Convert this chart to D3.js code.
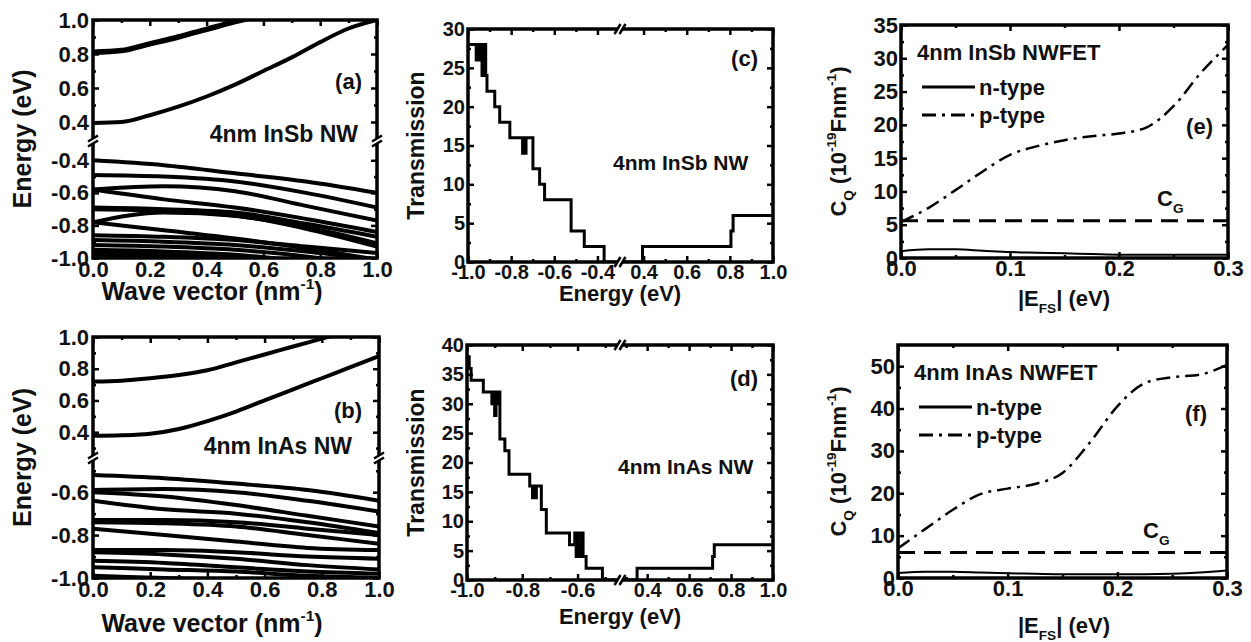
<!DOCTYPE html>
<html>
<head>
<meta charset="utf-8">
<script src="https://cdn.jsdelivr.net/npm/d3@7/dist/d3.min.js"></script>
<style>
body { margin: 0; background: #fff; }
text { font-family: "Liberation Sans", Arial, sans-serif; font-weight: bold; fill: #111; }
</style>
</head>
<body>
<script>
var w = 1251;
var h = 642;

//----- (a) 4nm InSb band structure -----
var kFine = [0, 0.1, 0.2, 0.3, 0.4, 0.5, 0.6, 0.7, 0.8, 0.9, 1.0];
var kCoarse = [0, 0.25, 0.5, 0.75, 1.0];
var insbCond = [
    [0.81, 0.82, 0.86, 0.90, 0.945, 0.99, 1.03, 1.07, 1.11, 1.15, 1.19],
    [0.394, 0.40, 0.44, 0.49, 0.55, 0.62, 0.70, 0.78, 0.87, 0.95, 1.0]
];
var insbVal = [
    [-0.40, -0.43, -0.48, -0.53, -0.60],
    [-0.49, -0.50, -0.53, -0.60, -0.69],
    [-0.58, -0.56, -0.59, -0.68, -0.77],
    [-0.58, -0.64, -0.69, -0.76, -0.84],
    [-0.69, -0.70, -0.72, -0.79, -0.87],
    [-0.70, -0.71, -0.74, -0.81, -0.91],
    [-0.78, -0.72, -0.74, -0.82, -0.93],
    [-0.78, -0.83, -0.88, -0.94, -1.01],
    [-0.86, -0.87, -0.89, -0.93, -0.97],
    [-0.89, -0.90, -0.92, -0.96, -1.01],
    [-0.92, -0.93, -0.95, -0.99, -1.05],
    [-0.95, -0.96, -0.98, -1.02, -1.06],
    [-0.97, -0.98, -1.00, -1.04, -1.08],
    [-0.99, -1.00, -1.02, -1.06, -1.10]
];

//----- (b) 4nm InAs band structure -----
var inasCond = [
    [0.72, 0.725, 0.74, 0.76, 0.79, 0.84, 0.89, 0.94, 0.99, 1.04, 1.09],
    [0.377, 0.38, 0.39, 0.42, 0.47, 0.53, 0.60, 0.67, 0.74, 0.81, 0.88]
];
var inasVal = [
    [-0.52, -0.535, -0.56, -0.59, -0.64],
    [-0.59, -0.585, -0.60, -0.64, -0.69],
    [-0.60, -0.62, -0.66, -0.71, -0.76],
    [-0.64, -0.68, -0.70, -0.74, -0.79],
    [-0.73, -0.73, -0.74, -0.77, -0.80],
    [-0.74, -0.745, -0.76, -0.80, -0.84],
    [-0.77, -0.80, -0.83, -0.86, -0.87],
    [-0.87, -0.87, -0.88, -0.90, -0.91],
    [-0.88, -0.89, -0.91, -0.94, -0.96],
    [-0.92, -0.93, -0.95, -0.97, -0.98],
    [-0.95, -0.96, -0.97, -0.99, -1.00],
    [-0.99, -1.00, -1.01, -1.03, -1.04]
];

//----- (c) InSb transmission -----
var insbTransLE = [-1.0, -0.962, -0.957, -0.948, -0.944, -0.935, -0.932, -0.926, -0.922, -0.918, -0.912, -0.876, -0.853, -0.806, -0.747, -0.742, -0.736, -0.731, -0.699, -0.668, -0.645, -0.522, -0.461, -0.369, -0.3];
var insbTransLT = [28, 26, 28, 26, 28, 24, 28, 24, 28, 24, 22, 20, 18, 16, 14, 16, 14, 16, 12, 10, 8, 4, 2, 0, 0];
var insbTransRE = [0.3, 0.395, 0.805, 0.815, 1.0];
var insbTransRT = [0, 2, 4, 6, 6];

//----- (d) InAs transmission -----
var inasTransLE = [-1.0, -0.992, -0.985, -0.941, -0.91, -0.905, -0.9, -0.895, -0.89, -0.885, -0.881, -0.863, -0.848, -0.773, -0.763, -0.758, -0.753, -0.749, -0.731, -0.713, -0.629, -0.61, -0.605, -0.6, -0.596, -0.59, -0.585, -0.58, -0.569, -0.51, -0.45];
var inasTransLT = [38, 36, 34, 32, 30, 32, 28, 32, 30, 32, 24, 22, 18, 16, 14, 16, 14, 16, 12, 8, 6, 8, 4, 8, 4, 6, 8, 4, 2, 0, 0];
var inasTransRE = [0.28, 0.352, 0.712, 0.72, 1.0];
var inasTransRT = [0, 2, 4, 6, 6];

//----- (e),(f) quantum capacitance -----
var efs = [0, 0.025, 0.05, 0.075, 0.1, 0.125, 0.15, 0.175, 0.2, 0.225, 0.25, 0.275, 0.3];
var insbN = [1.0, 1.3, 1.3, 1.1, 0.9, 0.8, 0.7, 0.6, 0.5, 0.5, 0.5, 0.5, 0.5];
var insbP = [5.4, 7.5, 10.2, 13.0, 15.5, 16.8, 17.7, 18.3, 18.7, 19.6, 22.8, 27.8, 32.0];
var insbCG = 5.6;
var inasN = [1.2, 1.5, 1.5, 1.3, 1.1, 1.0, 0.9, 0.9, 0.9, 0.9, 1.0, 1.3, 1.8];
var inasP = [7.0, 11.6, 16.1, 19.8, 21.1, 22.2, 24.8, 32.0, 40.5, 46.0, 47.4, 48.0, 50.3];
var inasCG = 6.0;

var svg = d3.select("body").append("svg").attr("width", w).attr("height", h);
var clipId = 0;

function fmt1(d) { return d.toFixed(1); }
function fmt0(d) { return String(d); }

function clip(x0, y0, x1, y1) {
    clipId++;
    svg.append("clipPath").attr("id", "c" + clipId)
        .append("rect").attr("x", x0).attr("y", y0).attr("width", x1 - x0).attr("height", y1 - y0);
    return "url(#c" + clipId + ")";
}

// inward ticks, labels only on left / bottom
function axis(kind, scale, pos, major, minor, fs, f, pad) {
    var maker = {left: d3.axisLeft, right: d3.axisRight, top: d3.axisTop, bottom: d3.axisBottom}[kind];
    var tr = (kind == "left" || kind == "right") ? "translate(" + pos + ",0)" : "translate(0," + pos + ")";
    var labelled = (kind == "left" || kind == "bottom");
    svg.append("g").attr("transform", tr)
        .call(maker(scale).tickValues(minor).tickSize(-3).tickFormat(""))
        .call(function (g) { g.select(".domain").remove(); g.selectAll("line").attr("stroke", "#000").attr("stroke-width", 2.5); });
    var g = svg.append("g").attr("transform", tr)
        .call(maker(scale).tickValues(major).tickSize(-6).tickPadding(pad).tickFormat(labelled ? f : ""));
    g.attr("font-size", fs).attr("font-family", '"Liberation Sans", Arial, sans-serif');
    g.select(".domain").remove();
    g.selectAll("line").attr("stroke", "#000").attr("stroke-width", 2.5);
    g.selectAll("text").attr("fill", "#111").attr("font-weight", "bold");
}

function frame(x0, y0, x1, y1) {
    svg.append("rect").attr("x", x0).attr("y", y0).attr("width", x1 - x0).attr("height", y1 - y0)
        .attr("fill", "none").attr("stroke", "#000").attr("stroke-width", 3.5);
}

function breakY(x, y) {
    svg.append("rect").attr("x", x - 4).attr("y", y - 3).attr("width", 8).attr("height", 6).attr("fill", "#fff");
    [-2.5, 2.5].forEach(function (o) {
        svg.append("line").attr("x1", x - 5).attr("y1", y + o + 3).attr("x2", x + 5).attr("y2", y + o - 3)
            .attr("stroke", "#000").attr("stroke-width", 2.5);
    });
}

function breakX(x, y) {
    svg.append("rect").attr("x", x - 3).attr("y", y - 4).attr("width", 6).attr("height", 8).attr("fill", "#fff");
    [-2.5, 2.5].forEach(function (o) {
        svg.append("line").attr("x1", x + o - 3).attr("y1", y + 5).attr("x2", x + o + 3).attr("y2", y - 5)
            .attr("stroke", "#000").attr("stroke-width", 2.5);
    });
}

// text with sub/superscript parts: [text, "sup"|"sub"|""]
function rich(parts, x, y, fs, anchor, rotate) {
    var t = svg.append("text").attr("font-size", fs).attr("text-anchor", anchor || "middle")
        .attr("transform", "translate(" + x + "," + y + ")" + (rotate ? " rotate(-90)" : ""));
    var shift = 0;
    parts.forEach(function (p) {
        var target = p[1] == "sup" ? -0.45 * fs : (p[1] == "sub" ? 0.3 * fs : 0);
        t.append("tspan").text(p[0]).attr("dy", target - shift)
            .attr("font-size", p[1] ? fs * 0.62 : fs);
        shift = target;
    });
    return t;
}

function label(txt, x, y, fs, anchor) {
    svg.append("text").text(txt).attr("x", x).attr("y", y).attr("font-size", fs).attr("text-anchor", anchor || "start");
}

//====== band structure panels ======
function bandPanel(f, cond, val, yU, yL, upMajor, upMinor, loMajor, loMinor, thickFirst, titleDy) {
    var x = d3.scaleLinear().domain([0, 1]).range([f.x0, f.x1]);
    var lineU = d3.line().x(function (d, i) { return x(kFine[i]); }).y(function (d) { return yU(d); }).curve(d3.curveMonotoneX);
    var lineL = d3.line().x(function (d, i) { return x(kCoarse[i]); }).y(function (d) { return yL(d); }).curve(d3.curveMonotoneX);
    var cu = clip(f.x0, f.y0, f.x1, f.brk);
    svg.append("g").attr("clip-path", cu).selectAll("path").data(cond).join("path")
        .attr("d", lineU).attr("fill", "none").attr("stroke", "#000")
        .attr("stroke-width", function (d, i) { return (thickFirst && i == 0) ? 5.5 : 4; });
    var cl = clip(f.x0, f.brk, f.x1, f.y1);
    svg.append("g").attr("clip-path", cl).selectAll("path").data(val).join("path")
        .attr("d", lineL).attr("fill", "none").attr("stroke", "#000").attr("stroke-width", 4);

    frame(f.x0, f.y0, f.x1, f.y1);
    axis("bottom", x, f.y1, [0, 0.2, 0.4, 0.6, 0.8, 1.0], [0.1, 0.3, 0.5, 0.7, 0.9], 22, fmt1, 3);
    axis("top", x, f.y0, [0, 0.2, 0.4, 0.6, 0.8, 1.0], [0.1, 0.3, 0.5, 0.7, 0.9], 22, fmt1, 3);
    axis("left", yU, f.x0, upMajor, upMinor, 22, fmt1, 4);
    axis("right", yU, f.x1, upMajor, upMinor, 22, fmt1, 4);
    axis("left", yL, f.x0, loMajor, loMinor, 22, fmt1, 4);
    axis("right", yL, f.x1, loMajor, loMinor, 22, fmt1, 4);
    breakY(f.x0, f.brk);
    breakY(f.x1, f.brk);
    rich([["Energy (eV)", ""]], 31, (f.y0 + f.y1) / 2, 25, "middle", true);
    rich([["Wave vector (nm", ""], ["-1", "sup"], [")", ""]], 212, f.y1 + titleDy, 25, "middle", false);
}

var fA = {x0: 93, x1: 377, y0: 20, y1: 258, brk: 141};
bandPanel(fA, insbCond, insbVal,
    d3.scaleLinear().domain([0.3, 1.0]).range([139, fA.y0]),
    d3.scaleLinear().domain([-1.0, -0.3]).range([fA.y1, 144]),
    [0.4, 0.6, 0.8, 1.0], [0.5, 0.7, 0.9], [-1.0, -0.8, -0.6, -0.4], [-0.9, -0.7, -0.5], true, 42);
label("(a)", 362, 89, 22, "end");
label("4nm InSb NW", 358, 142, 23, "end");

var fB = {x0: 93, x1: 379, y0: 337, y1: 578, brk: 458};
bandPanel(fB, inasCond, inasVal,
    d3.scaleLinear().domain([0.25, 1.0]).range([456, fB.y0]),
    d3.scaleLinear().domain([-1.0, -0.45]).range([fB.y1, 460]),
    [0.4, 0.6, 0.8, 1.0], [0.3, 0.5, 0.7, 0.9], [-1.0, -0.8, -0.6], [-0.9, -0.7, -0.5], false, 54);
label("(b)", 362, 418, 22, "end");
label("4nm InAs NW", 352, 454, 23, "end");

//====== transmission panels ======
function transPanel(f, xl, xr, y, LE, LT, RE, RT, yMajor, yMinor, lMajor, lMinor, rMajor, rMinor, titleDy) {
    var stepL = d3.line().x(function (d, i) { return xl(LE[i]); }).y(function (d) { return y(d); }).curve(d3.curveStepAfter);
    var stepR = d3.line().x(function (d, i) { return xr(RE[i]); }).y(function (d) { return y(d); }).curve(d3.curveStepAfter);
    svg.append("path").attr("clip-path", clip(f.x0, f.y0, f.brk, f.y1)).attr("d", stepL(LT))
        .attr("fill", "none").attr("stroke", "#000").attr("stroke-width", 3);
    svg.append("path").attr("clip-path", clip(f.brk, f.y0, f.x1, f.y1)).attr("d", stepR(RT))
        .attr("fill", "none").attr("stroke", "#000").attr("stroke-width", 3);
    frame(f.x0, f.y0, f.x1, f.y1);
    axis("left", y, f.x0, yMajor, yMinor, 20, fmt0, 3);
    axis("right", y, f.x1, yMajor, yMinor, 20, fmt0, 3);
    axis("bottom", xl, f.y1, lMajor, lMinor, 20, fmt1, 3);
    axis("top", xl, f.y0, lMajor, lMinor, 20, fmt1, 3);
    axis("bottom", xr, f.y1, rMajor, rMinor, 20, fmt1, 3);
    axis("top", xr, f.y0, rMajor, rMinor, 20, fmt1, 3);
    breakX(f.brk, f.y0);
    breakX(f.brk, f.y1);
    rich([["Transmission", ""]], 424, (f.y0 + f.y1) / 2, 23, "middle", true);
    rich([["Energy (eV)", ""]], 620, f.y1 + titleDy, 22, "middle", false);
}

var fC = {x0: 468, x1: 773, y0: 29, y1: 262, brk: 620};
transPanel(fC,
    d3.scaleLinear().domain([-1.0, -0.3]).range([fC.x0, 619]),
    d3.scaleLinear().domain([0.3, 1.0]).range([622, fC.x1]),
    d3.scaleLinear().domain([0, 30]).range([fC.y1, fC.y0]),
    insbTransLE, insbTransLT, insbTransRE, insbTransRT,
    [0, 5, 10, 15, 20, 25, 30], [2.5, 7.5, 12.5, 17.5, 22.5, 27.5],
    [-1.0, -0.8, -0.6, -0.4], [-0.9, -0.7, -0.5], [0.4, 0.6, 0.8, 1.0], [0.5, 0.7, 0.9], 39);
label("(c)", 758, 66, 22, "end");
label("4nm InSb NW", 613, 170, 21, "start");

var fD = {x0: 467, x1: 773, y0: 345, y1: 580, brk: 620};
transPanel(fD,
    d3.scaleLinear().domain([-1.0, -0.45]).range([fD.x0, 619]),
    d3.scaleLinear().domain([0.28, 1.0]).range([622, fD.x1]),
    d3.scaleLinear().domain([0, 40]).range([fD.y1, fD.y0]),
    inasTransLE, inasTransLT, inasTransRE, inasTransRT,
    [0, 5, 10, 15, 20, 25, 30, 35, 40], [2.5, 7.5, 12.5, 17.5, 22.5, 27.5, 32.5, 37.5],
    [-1.0, -0.8, -0.6], [-0.9, -0.7, -0.5], [0.4, 0.6, 0.8, 1.0], [0.3, 0.5, 0.7, 0.9], 44);
label("(d)", 758, 386, 22, "end");
label("4nm InAs NW", 618, 474, 21, "start");

//====== quantum capacitance panels ======
function cqPanel(f, yMax, yMajor, yMinor, nVals, pVals, cg, name, tag, tagX, tagY, cgX, cgY, titleDy) {
    var x = d3.scaleLinear().domain([0, 0.3]).range([f.x0, f.x1]);
    var y = d3.scaleLinear().domain([0, yMax]).range([f.y1, f.y0]);
    var line = d3.line().x(function (d, i) { return x(efs[i]); }).y(function (d) { return y(d); }).curve(d3.curveMonotoneX);
    var cp = clip(f.x0, f.y0, f.x1, f.y1);
    svg.append("path").attr("clip-path", cp).attr("d", line(nVals))
        .attr("fill", "none").attr("stroke", "#000").attr("stroke-width", 2);
    svg.append("path").attr("clip-path", cp).attr("d", line(pVals))
        .attr("fill", "none").attr("stroke", "#000").attr("stroke-width", 2.5).attr("stroke-dasharray", "14,6,3,6");
    svg.append("line").attr("x1", x(0)).attr("x2", x(0.3)).attr("y1", y(cg)).attr("y2", y(cg))
        .attr("stroke", "#000").attr("stroke-width", 3).attr("stroke-dasharray", "17,9");
    frame(f.x0, f.y0, f.x1, f.y1);
    axis("bottom", x, f.y1, [0, 0.1, 0.2, 0.3], [0.05, 0.15, 0.25], 22, fmt1, 2);
    axis("top", x, f.y0, [0, 0.1, 0.2, 0.3], [0.05, 0.15, 0.25], 22, fmt1, 2);
    axis("left", y, f.x0, yMajor, yMinor, 22, fmt0, 3);
    axis("right", y, f.x1, yMajor, yMinor, 22, fmt0, 3);

    label(name, f.x0 + 16, f.y0 + 35, 22, "start");
    svg.append("line").attr("x1", f.x0 + 21).attr("x2", f.x0 + 74).attr("y1", f.y0 + 62).attr("y2", f.y0 + 62)
        .attr("stroke", "#000").attr("stroke-width", 3);
    label("n-type", f.x0 + 78, f.y0 + 70, 22, "start");
    svg.append("line").attr("x1", f.x0 + 21).attr("x2", f.x0 + 74).attr("y1", f.y0 + 90).attr("y2", f.y0 + 90)
        .attr("stroke", "#000").attr("stroke-width", 3).attr("stroke-dasharray", "14,6,3,6");
    label("p-type", f.x0 + 78, f.y0 + 98, 22, "start");
    label(tag, tagX, tagY, 22, "end");
    rich([["C", ""], ["G", "sub"]], cgX, cgY, 22, "start", false);
    rich([["C", ""], ["Q", "sub"], [" (10", ""], ["-19", "sup"], ["Fnm", ""], ["-1", "sup"], [")", ""]],
        846, (f.y0 + f.y1) / 2, 22, "middle", true);
    rich([["|E", ""], ["FS", "sub"], ["| (eV)", ""]], 1064, f.y1 + titleDy, 22, "middle", false);
}

cqPanel({x0: 901, x1: 1228, y0: 25, y1: 258}, 35, [0, 5, 10, 15, 20, 25, 30, 35], [2.5, 7.5, 12.5, 17.5, 22.5, 27.5, 32.5],
    insbN, insbP, insbCG, "4nm InSb NWFET", "(e)", 1213, 134, 1157, 206, 48);
cqPanel({x0: 898, x1: 1227, y0: 345, y1: 578}, 55, [0, 10, 20, 30, 40, 50], [5, 15, 25, 35, 45],
    inasN, inasP, inasCG, "4nm InAs NWFET", "(f)", 1207, 421, 1143, 538, 55);
</script>
</body>
</html>
